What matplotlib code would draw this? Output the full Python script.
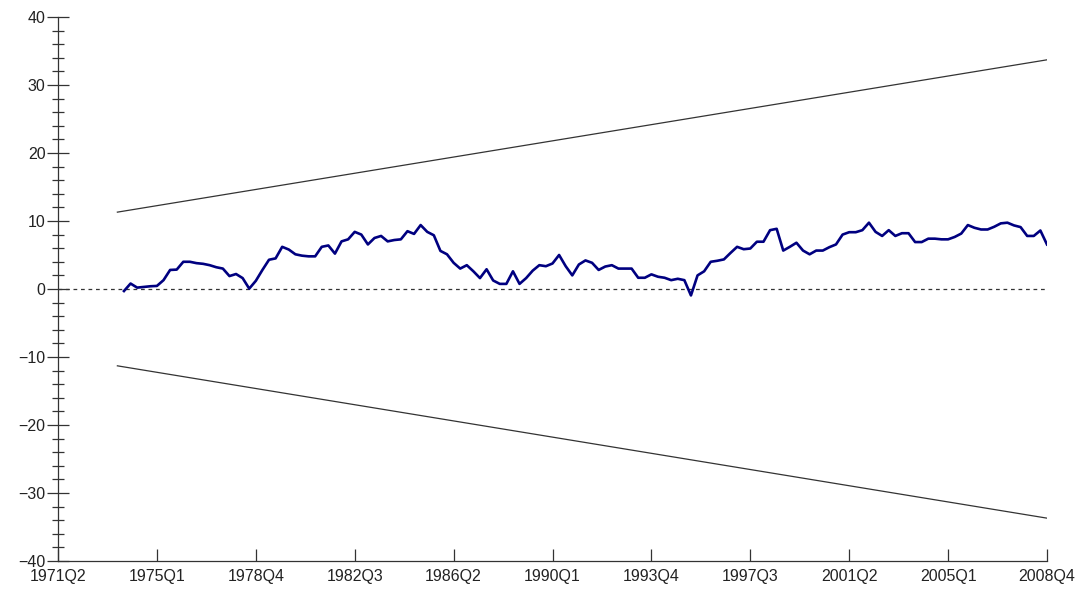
import matplotlib
matplotlib.use("Agg")
import matplotlib.pyplot as plt
from matplotlib.ticker import MultipleLocator

# quarter index 0 = 1971Q2, 150 = 2008Q4
tick_pos = [0, 15, 30, 45, 60, 75, 90, 105, 120, 135, 150]
tick_labels = ['1971Q2', '1975Q1', '1978Q4', '1982Q3', '1986Q2', '1990Q1',
               '1993Q4', '1997Q3', '2001Q2', '2005Q1', '2008Q4']

# CUSUM values, 1973Q4 (index 10) .. 2008Q4 (index 150)
cusum_start = 10
cusum = [
    -0.3, 0.8, 0.2, 0.3, 0.4, 0.45, 1.3, 2.8, 2.85, 4.0,
    4.0, 3.8, 3.7, 3.5, 3.2, 3.0, 1.9, 2.2, 1.6, 0.05,
    1.2, 2.8, 4.3, 4.5, 6.2, 5.8, 5.1, 4.9, 4.8, 4.8,
    6.2, 6.4, 5.2, 7.0, 7.3, 8.4, 8.0, 6.55, 7.5, 7.8,
    7.0, 7.2, 7.3, 8.5, 8.1, 9.4, 8.4, 7.9, 5.6, 5.1,
    3.85, 3.0, 3.5, 2.6, 1.6, 2.9, 1.25, 0.75, 0.75, 2.6,
    0.75, 1.6, 2.7, 3.5, 3.35, 3.75, 5.0, 3.35, 2.0, 3.6,
    4.2, 3.85, 2.8, 3.3, 3.5, 3.0, 3.0, 3.0, 1.65, 1.65,
    2.15, 1.8, 1.65, 1.3, 1.5, 1.3, -0.95, 2.0, 2.6, 4.0,
    4.15, 4.35, 5.3, 6.2, 5.85, 5.95, 6.95, 6.95, 8.65, 8.85,
    5.65, 6.2, 6.8, 5.65, 5.1, 5.65, 5.65, 6.15, 6.55, 8.0,
    8.35, 8.35, 8.65, 9.75, 8.4, 7.8, 8.65, 7.8, 8.2, 8.2,
    6.9, 6.9, 7.4, 7.4, 7.3, 7.3, 7.65, 8.15, 9.4, 9.0,
    8.75, 8.75, 9.15, 9.65, 9.75, 9.35, 9.1, 7.8, 7.8, 8.6,
    6.55,
]

# 5% significance bounds (straight lines)
bound_x = [9, 150]
bound_upper = [11.3, 33.7]
bound_lower = [-11.3, -33.7]

plt.rcParams['font.family'] = ['Liberation Sans', 'DejaVu Sans']

fig = plt.figure(figsize=(10.89, 5.98), dpi=100)
ax = fig.add_axes([0.0533, 0.0619, 0.9081, 0.9097])

qs = list(range(cusum_start, cusum_start + len(cusum)))
ax.plot(bound_x, bound_upper, color='#333333', lw=0.9)
ax.plot(bound_x, bound_lower, color='#333333', lw=0.9)
ax.plot([0, 150], [0, 0], color='#333333', lw=0.9, ls=(0, (3, 3)))
ax.plot(qs, cusum, color='#000080', lw=1.9)

ax.set_xlim(0, 150)
ax.set_ylim(-40, 40)
ax.set_xticks(tick_pos)
ax.set_xticklabels(tick_labels)
ax.yaxis.set_major_locator(MultipleLocator(10))
ax.yaxis.set_minor_locator(MultipleLocator(2))

for s in ['top', 'right']:
    ax.spines[s].set_visible(False)
for s in ['left', 'bottom']:
    ax.spines[s].set_color('#333333')
    ax.spines[s].set_linewidth(0.9)

ax.tick_params(axis='y', which='major', direction='inout', length=16, width=0.9,
               color='#333333', labelsize=11.5, labelcolor='#222222', pad=1)
ax.tick_params(axis='y', which='minor', direction='inout', length=8.5, width=0.9,
               color='#333333')
ax.tick_params(axis='x', which='major', direction='in', length=9, width=0.9,
               color='#333333', labelsize=11.5, labelcolor='#222222', pad=6)

fig.savefig('out.png', dpi=100)
